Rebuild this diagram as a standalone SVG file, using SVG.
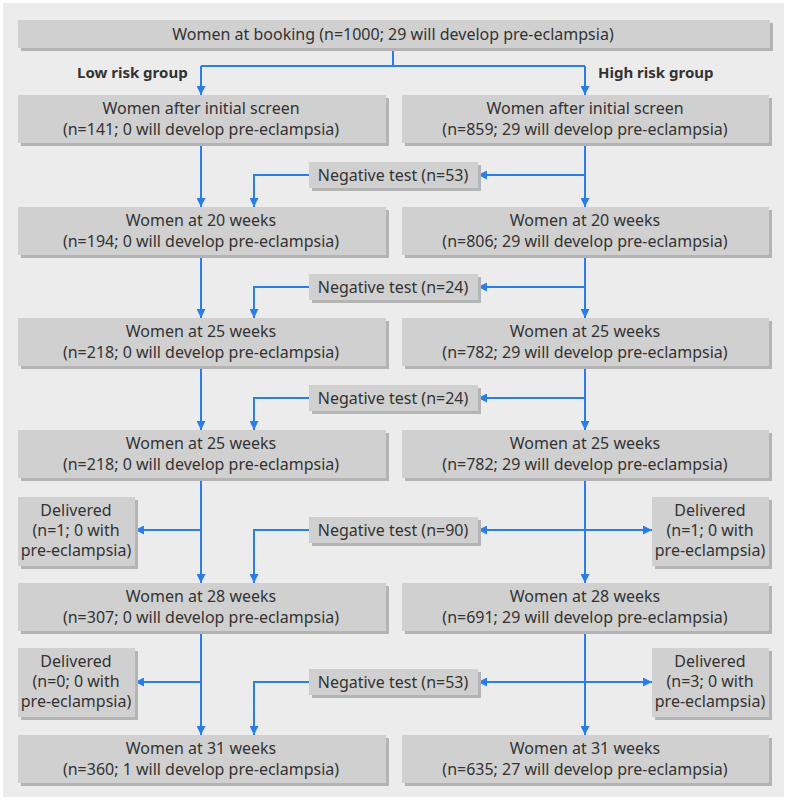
<svg xmlns="http://www.w3.org/2000/svg" width="787" height="800" viewBox="0 0 787 800">
<style>
.bg{fill:#ececec}
.sh{fill:#b4b4b4}
.bx{fill:#d0d0d0}
text{font-family:"Noto Sans","Open Sans","Liberation Sans",sans-serif;font-size:16px;fill:#333;text-anchor:middle}
.lbl{font-weight:bold;text-anchor:start;font-size:15px}
.c{fill:none;stroke:#2b7de9;stroke-width:2}
</style>
<defs>
<marker id="ah" viewBox="0 0 10 10" refX="10" refY="5" markerWidth="9" markerHeight="9" markerUnits="userSpaceOnUse" orient="auto-start-reverse">
<path d="M0,0 L10,5 L0,10 z" fill="#2b7de9"/>
</marker>
</defs>
<rect x="0" y="0" width="787" height="800" fill="#fff"/>
<rect class="bg" x="3" y="3" width="781" height="794"/>

<g id="connectors">
<path class="c" d="M393,48 V66"/>
<path class="c" d="M201,66 H585"/>
<path class="c" d="M201,66 V95" marker-end="url(#ah)"/>
<path class="c" d="M585,66 V95" marker-end="url(#ah)"/>
<path class="c" d="M201,143 V207" marker-end="url(#ah)"/>
<path class="c" d="M585,143 V207" marker-end="url(#ah)"/>
<path class="c" d="M585,175 H478" marker-end="url(#ah)"/>
<path class="c" d="M309,175 H254 V207" marker-end="url(#ah)"/>
<path class="c" d="M201,255 V318" marker-end="url(#ah)"/>
<path class="c" d="M585,255 V318" marker-end="url(#ah)"/>
<path class="c" d="M585,287 H478" marker-end="url(#ah)"/>
<path class="c" d="M309,287 H254 V318" marker-end="url(#ah)"/>
<path class="c" d="M201,366 V430" marker-end="url(#ah)"/>
<path class="c" d="M585,366 V430" marker-end="url(#ah)"/>
<path class="c" d="M585,398 H478" marker-end="url(#ah)"/>
<path class="c" d="M309,398 H254 V430" marker-end="url(#ah)"/>
<path class="c" d="M201,478 V583" marker-end="url(#ah)"/>
<path class="c" d="M201,530 H135" marker-end="url(#ah)"/>
<path class="c" d="M585,478 V583" marker-end="url(#ah)"/>
<path class="c" d="M478,530 H652" marker-start="url(#ah)" marker-end="url(#ah)"/>
<path class="c" d="M309,530 H254 V583" marker-end="url(#ah)"/>
<path class="c" d="M201,631 V735" marker-end="url(#ah)"/>
<path class="c" d="M201,682 H135" marker-end="url(#ah)"/>
<path class="c" d="M585,631 V735" marker-end="url(#ah)"/>
<path class="c" d="M478,682 H652" marker-start="url(#ah)" marker-end="url(#ah)"/>
<path class="c" d="M309,682 H254 V735" marker-end="url(#ah)"/>
</g>

<g id="booking">
<rect class="sh" x="21" y="23" width="752" height="28"/>
<rect class="bx" x="18" y="20" width="752" height="28"/>
<text x="393" y="40">Women at booking (n=1000; 29 will develop pre-eclampsia)</text>
</g>
<g id="low-label"><text class="lbl" x="77" y="78">Low risk group</text></g>
<g id="high-label"><text class="lbl" x="598" y="78">High risk group</text></g>

<g id="low1">
<rect class="sh" x="21" y="98" width="368" height="48"/>
<rect class="bx" x="18" y="95" width="368" height="48"/>
<text x="201" y="114">Women after initial screen</text>
<text x="201" y="135">(n=141; 0 will develop pre-eclampsia)</text>
</g>
<g id="high1">
<rect class="sh" x="405" y="98" width="367" height="48"/>
<rect class="bx" x="402" y="95" width="367" height="48"/>
<text x="585" y="114">Women after initial screen</text>
<text x="585" y="135">(n=859; 29 will develop pre-eclampsia)</text>
</g>
<g id="neg1">
<rect class="sh" x="312" y="165" width="169" height="26"/>
<rect class="bx" x="309" y="162" width="169" height="26"/>
<text x="393" y="181">Negative test (n=53)</text>
</g>

<g id="low2">
<rect class="sh" x="21" y="210" width="368" height="48"/>
<rect class="bx" x="18" y="207" width="368" height="48"/>
<text x="201" y="226">Women at 20 weeks</text>
<text x="201" y="247">(n=194; 0 will develop pre-eclampsia)</text>
</g>
<g id="high2">
<rect class="sh" x="405" y="210" width="367" height="48"/>
<rect class="bx" x="402" y="207" width="367" height="48"/>
<text x="585" y="226">Women at 20 weeks</text>
<text x="585" y="247">(n=806; 29 will develop pre-eclampsia)</text>
</g>
<g id="neg2">
<rect class="sh" x="312" y="277" width="169" height="26"/>
<rect class="bx" x="309" y="274" width="169" height="26"/>
<text x="393" y="293">Negative test (n=24)</text>
</g>

<g id="low3">
<rect class="sh" x="21" y="321" width="368" height="48"/>
<rect class="bx" x="18" y="318" width="368" height="48"/>
<text x="201" y="337">Women at 25 weeks</text>
<text x="201" y="358">(n=218; 0 will develop pre-eclampsia)</text>
</g>
<g id="high3">
<rect class="sh" x="405" y="321" width="367" height="48"/>
<rect class="bx" x="402" y="318" width="367" height="48"/>
<text x="585" y="337">Women at 25 weeks</text>
<text x="585" y="358">(n=782; 29 will develop pre-eclampsia)</text>
</g>
<g id="neg3">
<rect class="sh" x="312" y="388" width="169" height="26"/>
<rect class="bx" x="309" y="385" width="169" height="26"/>
<text x="393" y="404">Negative test (n=24)</text>
</g>

<g id="low4">
<rect class="sh" x="21" y="433" width="368" height="48"/>
<rect class="bx" x="18" y="430" width="368" height="48"/>
<text x="201" y="449">Women at 25 weeks</text>
<text x="201" y="470">(n=218; 0 will develop pre-eclampsia)</text>
</g>
<g id="high4">
<rect class="sh" x="405" y="433" width="367" height="48"/>
<rect class="bx" x="402" y="430" width="367" height="48"/>
<text x="585" y="449">Women at 25 weeks</text>
<text x="585" y="470">(n=782; 29 will develop pre-eclampsia)</text>
</g>
<g id="del-low4">
<rect class="sh" x="21" y="500" width="117" height="69"/>
<rect class="bx" x="18" y="497" width="117" height="69"/>
<text x="76" y="516">Delivered</text>
<text x="76" y="536">(n=1; 0 with</text>
<text x="76" y="556">pre-eclampsia)</text>
</g>
<g id="neg4">
<rect class="sh" x="312" y="520" width="169" height="26"/>
<rect class="bx" x="309" y="517" width="169" height="26"/>
<text x="393" y="536">Negative test (n=90)</text>
</g>
<g id="del-high4">
<rect class="sh" x="655" y="500" width="117" height="69"/>
<rect class="bx" x="652" y="497" width="117" height="69"/>
<text x="710" y="516">Delivered</text>
<text x="710" y="536">(n=1; 0 with</text>
<text x="710" y="556">pre-eclampsia)</text>
</g>

<g id="low5">
<rect class="sh" x="21" y="586" width="368" height="48"/>
<rect class="bx" x="18" y="583" width="368" height="48"/>
<text x="201" y="602">Women at 28 weeks</text>
<text x="201" y="623">(n=307; 0 will develop pre-eclampsia)</text>
</g>
<g id="high5">
<rect class="sh" x="405" y="586" width="367" height="48"/>
<rect class="bx" x="402" y="583" width="367" height="48"/>
<text x="585" y="602">Women at 28 weeks</text>
<text x="585" y="623">(n=691; 29 will develop pre-eclampsia)</text>
</g>
<g id="del-low5">
<rect class="sh" x="21" y="651" width="117" height="69"/>
<rect class="bx" x="18" y="648" width="117" height="69"/>
<text x="76" y="667">Delivered</text>
<text x="76" y="687">(n=0; 0 with</text>
<text x="76" y="707">pre-eclampsia)</text>
</g>
<g id="neg5">
<rect class="sh" x="312" y="672" width="169" height="26"/>
<rect class="bx" x="309" y="669" width="169" height="26"/>
<text x="393" y="688">Negative test (n=53)</text>
</g>
<g id="del-high5">
<rect class="sh" x="655" y="651" width="117" height="69"/>
<rect class="bx" x="652" y="648" width="117" height="69"/>
<text x="710" y="667">Delivered</text>
<text x="710" y="687">(n=3; 0 with</text>
<text x="710" y="707">pre-eclampsia)</text>
</g>

<g id="low6">
<rect class="sh" x="21" y="738" width="368" height="48"/>
<rect class="bx" x="18" y="735" width="368" height="48"/>
<text x="201" y="754">Women at 31 weeks</text>
<text x="201" y="775">(n=360; 1 will develop pre-eclampsia)</text>
</g>
<g id="high6">
<rect class="sh" x="405" y="738" width="367" height="48"/>
<rect class="bx" x="402" y="735" width="367" height="48"/>
<text x="585" y="754">Women at 31 weeks</text>
<text x="585" y="775">(n=635; 27 will develop pre-eclampsia)</text>
</g>
</svg>
